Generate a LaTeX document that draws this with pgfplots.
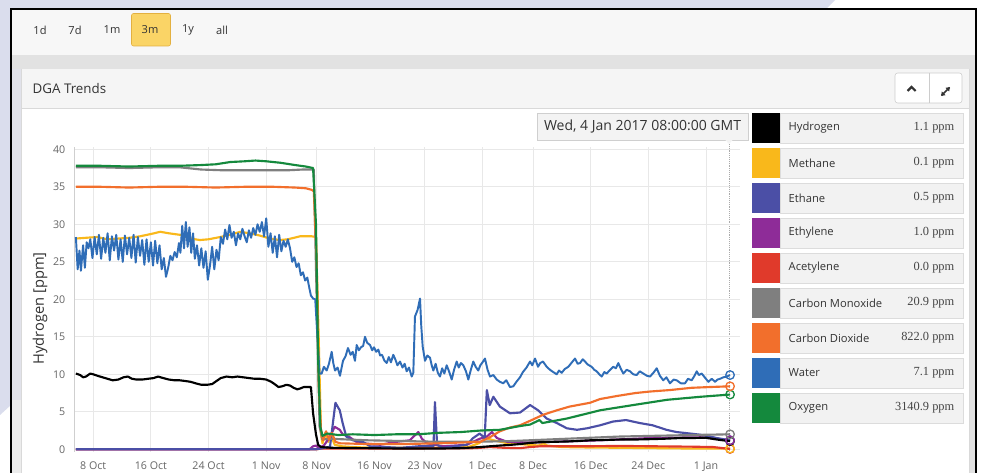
\documentclass[border=0pt]{standalone}
\usepackage{pgfplots}
\pgfplotsset{compat=1.18}
\usepackage{fontspec}
\setmainfont{Open Sans}
\newfontfamily\seriffont{Liberation Serif}
\definecolor{cH}{HTML}{000000}
\definecolor{cMe}{HTML}{F9B81B}
\definecolor{cEt}{HTML}{4B4FA6}
\definecolor{cEy}{HTML}{8E2C98}
\definecolor{cAc}{HTML}{E03A2B}
\definecolor{cCO}{HTML}{7F7F7F}
\definecolor{cCD}{HTML}{F26F2C}
\definecolor{cW}{HTML}{2F6DB7}
\definecolor{cO}{HTML}{14893D}
\definecolor{lav}{HTML}{DADDED}
\definecolor{tbar}{HTML}{F7F7F7}
\definecolor{band}{HTML}{E2E2E2}
\definecolor{hdr}{HTML}{F5F5F5}
\definecolor{bord}{HTML}{D9D9D9}
\definecolor{lgbox}{HTML}{F2F2F2}
\definecolor{btn}{HTML}{FAD466}
\definecolor{btnb}{HTML}{E3B040}
\definecolor{txt}{HTML}{333333}
\definecolor{tick}{HTML}{666666}
\definecolor{gridc}{HTML}{E8E8E8}
\definecolor{pm1}{HTML}{E1E2EA}
\definecolor{pm2}{HTML}{ECECEC}
\definecolor{btbord}{HTML}{CCCCCC}
\definecolor{ttb}{HTML}{CFCFCF}
\definecolor{ttf}{HTML}{F3F3F3}
\definecolor{dots}{HTML}{AAAAAA}
\definecolor{lgb}{HTML}{DCDCDC}
\definecolor{valc}{HTML}{444444}
\definecolor{yax}{HTML}{CFCFCF}
\begin{document}
\begin{tikzpicture}
\path[use as bounding box] (0,0) rectangle (741.75pt,-354.75pt);
\clip (0,0) rectangle (741.75pt,-354.75pt);
\begin{scope}[x=0.75pt,y=-0.75pt]
 \fill[white] (0,0) rectangle (989,473);
 \fill[lav] (0,0) -- (835,0) -- (826,9) -- (11,9) -- (11,405) -- (0,415) -- cycle;
 % toolbar
 \fill[tbar] (11,9) rectangle (976,55);
 \fill[band] (11,55) rectangle (976,69);
 \fill[pm1] (11,69) rectangle (21,400);
 \fill[pm2] (11,400) rectangle (21,480);
 \fill[band] (969,69) rectangle (976,480);
 \draw[btnb, fill=btn, rounded corners=1.5] (131.5,13.5) rectangle (170.5,46);
 \begin{scope}[every node/.style={font=\fontsize{8.3pt}{10pt}\selectfont, text=txt}]
  \node at (40,30) {1d};
  \node at (75,30) {7d};
  \node at (112,30) {1m};
  \node at (150,30) {3m};
  \node at (188,30) {1y};
  \node at (222,30) {all};
 \end{scope}
 % panel
 \fill[white] (21,69) rectangle (969,480);
 \fill[hdr] (21,69) rectangle (969,108);
 \draw[bord] (21,108.5) -- (969,108.5);
 \draw[bord] (21,69) -- (21,480);
 \draw[bord] (969,69) -- (969,480);
 \node[anchor=west, font=\fontsize{10pt}{12pt}\selectfont, text=txt] at (28,89) {DGA Trends};
 \draw[btbord, fill=white, rounded corners=2] (895,73) rectangle (962,103);
 \draw[btbord] (929,73) -- (929,103);
 \draw[line width=1.6, txt] (907.5,91) -- (911.5,87) -- (915.5,91);
 \draw[line width=1.1, txt] (941.5,95.5) -- (949.5,87.5);
 \fill[txt] (949.8,87.2) -- (945.5,87.8) -- (949.2,91.5) -- cycle;
 \fill[txt] (941.2,95.8) -- (945.5,95.2) -- (941.8,91.5) -- cycle;
 % tooltip
 \draw[ttb, fill=ttf] (537,113) rectangle (748,140);
 \fill[ttf] (725,139.5) -- (733,139.5) -- (729,144) -- cycle;
 \node[font=\fontsize{10.5pt}{12pt}\selectfont, text=txt] at (642.5,126.5) {Wed, 4 Jan 2017 08:00:00 GMT};
 \draw[densely dotted, dots] (729,144) -- (729,451);
 % legend
 \foreach \c/\n/\v [count=\i from 0] in {cH/Hydrogen/1.1 ppm, cMe/Methane/0.1 ppm, cEt/Ethane/0.5 ppm, cEy/Ethylene/1.0 ppm, cAc/Acetylene/0.0 ppm, cCO/Carbon Monoxide/20.9 ppm, cCD/Carbon Dioxide/822.0 ppm, cW/Water/7.1 ppm, cO/Oxygen/3140.9 ppm} {
   \draw[lgb, fill=lgbox] (780,113+35*\i) rectangle (963,143+35*\i);
   \fill[\c] (752,113+35*\i) rectangle (780,143+35*\i);
   \node[anchor=west, font=\fontsize{8.4pt}{10pt}\selectfont, text=txt] at (784,128+35*\i) {\n};
   \node[anchor=east, font=\seriffont\fontsize{9.3pt}{10pt}\selectfont, text=valc] at (959,128+35*\i) {\v};
 }
\end{scope}

\begin{axis}[
  at={(55.5pt,-338.66pt)}, anchor=south west,
  scale only axis, width=499.5pt, height=228.375pt,
  xmin=4.34, xmax=96.71, ymin=-0.3, ymax=40.3,
  xtick={7,15,23,31,38,46,53,61,68,76,84,92},
  xticklabels={8 Oct,16 Oct,24 Oct,1 Nov,8 Nov,16 Nov,23 Nov,1 Dec,8 Dec,16 Dec,24 Dec,1 Jan},
  ytick={0,5,...,40},
  grid=major, major grid style={draw=gridc, line width=0.7pt},
  separate axis lines, axis x line*=bottom, axis y line*=left,
  x axis line style={draw=none}, y axis line style={draw=yax, line width=0.7pt},
  major tick length=0pt,
  /pgf/number format/assume math mode=true,
  ticklabel style={font=\fontsize{8pt}{9pt}\selectfont, text=tick},
  xticklabel style={yshift=-4.5pt},
  yticklabel style={xshift=-3pt},
  ylabel={Hydrogen [ppm]},
  every axis y label/.style={at={(axis description cs:-0.051,0.47)}, rotate=90, anchor=center, font=\fontsize{11pt}{12pt}\selectfont, text=txt},
  every axis plot/.append style={line width=1.6pt, line join=round, mark=none},
  clip=false,
]
% Methane
\addplot[cMe] coordinates {(4.6,28.1) (6.0,28.2) (7.5,28.3) (9.0,28.0) (10.5,28.1) (12.0,28.2) (13.5,28.4) (15.0,28.7) (16.3,29.0) (17.5,28.8) (19.0,28.6) (20.5,28.1) (21.8,27.9) (23.0,28.0) (24.6,28.3) (26.0,28.6) (27.4,29.0) (28.7,28.8) (30.1,28.5) (31.5,28.1) (32.9,27.9) (34.0,28.0) (35.7,28.4) (37.3,28.4) (37.9,28.3) (38.3,14) (38.6,2) (38.8,0.8) (39.2,2.2) (39.6,1.0) (40.0,1.8) (40.5,0.6) (41.5,0.4) (43,0.3) (46,0.2) (50,0.2) (55,0.2) (59,0.3) (60.5,0.8) (61.5,1.5) (62.5,1.2) (63.5,1.0) (64.5,0.8) (66,0.7) (67.5,0.6) (68.8,0.5) (69.4,0.8) (70,0.5) (72,0.3) (75,0.25) (80,0.2) (85,0.15) (90,0.1) (95.33,0.1)};
% Acetylene
\addplot[cAc] coordinates {(4.6,0) (38.0,0) (38.6,0.1) (50,0.1) (60,0.15) (62,0.3) (64,0.2) (66.2,0.15) (67.6,0.3) (69,0.4) (75,0.4) (80,0.45) (85,0.4) (90,0.35) (93,0.3) (95.33,0.05)};
% Ethylene
\addplot[cEy] coordinates {(4.6,0) (37.0,0) (37.5,0.4) (37.9,0.5) (38.3,0.2) (39.0,0.5) (39.85,1.7) (40.5,3.0) (41.2,2.6) (41.6,2.0) (42.6,1.6) (43.5,1.0) (44.4,0.8) (46.8,0.6) (49.1,1.0) (50.9,1.2) (52.1,2.3) (52.6,1.4) (53.3,0.8) (55.5,0.4) (58.8,0.6) (60.6,1.4) (61.6,1.7) (62.3,2.3) (63.0,1.5) (64.4,1.0) (67.6,0.9) (71,1.0) (77.3,1.2) (84.2,1.5) (91.2,1.6) (93.5,1.4) (95.33,1.2)};
% Ethane
\addplot[cEt] coordinates {(4.6,0) (37.8,0) (38.6,0.1) (39.85,0.35) (40.3,3.9) (40.6,6.2) (41.2,5.2) (41.6,3.5) (42.1,1.7) (43.0,1.2) (44.4,1.0) (45.4,0.4) (49.6,0.2) (52.1,0.4) (54.2,0.4) (54.4,6.3) (54.7,0.6) (55.5,0.2) (58.8,0.6) (59.7,1.5) (60.6,2.1) (61.3,1.5) (61.6,7.9) (62.0,5.9) (62.5,7.0) (63.4,5.7) (64.8,4.8) (66.2,4.9) (67.6,5.9) (68.7,5.2) (69.9,4.1) (71.3,3.5) (72.7,2.8) (74.1,2.6) (75.5,2.8) (77.3,3.2) (79.1,3.7) (80.9,3.9) (82.8,3.5) (84.6,3.2) (86.5,2.6) (87.9,2.3) (89.8,2.1) (91.6,1.9) (93.5,1.5) (95.33,1.2)};
% Carbon Monoxide
\addplot[cCO] coordinates {(4.6,37.6) (8,37.6) (12,37.5) (16,37.6) (19,37.6) (22,37.3) (25,37.2) (28,37.2) (31,37.2) (34,37.2) (36,37.3) (37.6,37.3) (38.0,20) (38.4,3) (38.8,1.3) (40,1.4) (45,1.2) (50,1.1) (55,1.0) (60,1.0) (65,1.1) (70,1.3) (75,1.5) (80,1.7) (85,1.8) (90,1.9) (95.33,2.0)};
% Carbon Dioxide
\addplot[cCD] coordinates {(4.6,35.0) (8,35.0) (12,34.9) (16,35.0) (20,35.0) (24,34.9) (28,35.0) (32,35.0) (35,34.9) (36.5,34.8) (37.3,34.6) (37.6,34.4) (38.0,25) (38.3,8) (38.6,2.5) (38.9,1.2) (39.3,2.4) (39.7,1.3) (40.1,2.2) (40.6,1.0) (41.2,0.8) (45,0.7) (50,0.7) (55,0.8) (58,0.9) (60.7,1.0) (62.0,1.6) (63.4,2.4) (64.8,2.9) (66.2,3.2) (67.6,3.8) (69.4,4.6) (71.3,5.2) (73.1,5.7) (75.9,6.2) (77.3,6.7) (79.6,7.1) (82.2,7.5) (84.2,7.7) (87,7.9) (90,8.2) (92.5,8.3) (95.33,8.4)};
% Water
\addplot[cW, line width=1.45pt] coordinates {(4.6,28.3) (4.85,24.0) (5.1,26.5) (5.3,23.8) (5.6,27.2) (5.85,24.2) (6.1,27.6) (6.35,26.8) (6.6,28.0) (6.9,25.5) (7.2,28.3) (7.5,26.0) (7.8,28.6) (8.1,25.4) (8.4,28.2) (8.7,26.2) (9.0,28.8) (9.3,25.2) (9.6,28.4) (9.9,26.5) (10.2,28.6) (10.5,25.3) (10.8,28.0) (11.1,25.0) (11.4,28.5) (11.7,26.0) (12.0,28.2) (12.3,25.5) (12.6,28.6) (12.9,24.9) (13.2,28.3) (13.5,25.8) (13.8,27.9) (14.1,24.6) (14.4,28.0) (14.7,25.0) (15.0,27.6) (15.3,24.5) (15.6,27.8) (15.9,24.8) (16.2,27.2) (16.5,24.0) (16.8,25.5) (17.1,23.0) (17.4,24.2) (17.7,25.8) (18.0,25.2) (18.3,26.3) (18.6,25.6) (18.9,27.5) (19.1,26.2) (19.35,29.8) (19.6,26.8) (19.85,30.3) (20.1,27.0) (20.35,29.6) (20.6,26.2) (20.85,28.8) (21.1,25.4) (21.4,27.2) (21.7,24.5) (22.0,26.8) (22.3,24.2) (22.6,26.4) (22.9,22.6) (23.2,24.5) (23.5,27.0) (23.8,24.0) (24.1,26.6) (24.4,25.2) (24.7,28.3) (25.0,27.4) (25.3,29.3) (25.6,28.0) (25.9,29.9) (26.2,28.2) (26.5,29.0) (26.8,27.2) (27.1,28.8) (27.4,28.0) (27.7,29.4) (28.0,28.4) (28.3,27.6) (28.6,29.2) (28.9,28.2) (29.2,29.5) (29.5,28.6) (29.8,30.0) (30.1,29.0) (30.4,30.3) (30.7,28.4) (31.0,30.8) (31.3,27.0) (31.6,28.8) (31.9,26.2) (32.2,28.4) (32.5,25.6) (32.8,28.6) (33.1,26.4) (33.4,27.8) (33.7,27.0) (34.0,28.0) (34.3,26.8) (34.6,25.0) (34.9,25.6) (35.2,24.3) (35.5,24.8) (35.8,23.2) (36.1,23.6) (36.4,22.5) (36.7,22.9) (37.0,21.4) (37.2,20.5) (37.5,20.1) (37.8,20.0) (38.1,15.0) (38.4,10.1)
(38.69,10.1) (39.0,11.0) (39.39,10.5) (39.7,11.4) (40.08,13.0) (40.3,11.5) (40.54,10.5) (40.9,10.9) (41.23,9.8) (41.65,11.8) (42.0,12.4) (42.34,13.5) (42.7,12.6) (43.0,13.0) (43.31,11.8) (43.55,13.9) (43.85,13.2) (44.14,13.6) (44.45,13.8) (44.70,15.0) (45.0,14.2) (45.40,13.9) (45.7,13.2) (45.95,13.6) (46.25,13.0) (46.55,13.3) (46.8,12.5) (47.06,12.6) (47.4,11.8) (47.71,11.5) (48.0,12.3) (48.3,11.6) (48.62,12.6) (48.9,12.0) (49.2,11.2) (49.56,11.7) (49.9,10.9) (50.2,11.4) (50.48,10.4) (50.8,10.9) (51.18,9.7) (51.4,10.2) (51.63,17.7) (52.0,18.6) (52.33,20.1) (52.5,16.5) (52.70,13.7) (53.02,11.8) (53.35,12.5) (53.72,12.2) (53.95,11.2) (54.18,10.5) (54.5,11.4) (54.8,10.2) (55.10,9.7) (55.4,10.8) (55.7,10.1) (56.03,11.2) (56.35,10.4) (56.73,9.3) (57.05,10.6) (57.42,11.7) (57.7,10.9) (58.0,11.5) (58.34,11.2) (58.7,10.4) (59.03,9.3) (59.35,10.5) (59.72,11.7) (60.05,11.0) (60.41,10.5) (60.7,11.2) (61.0,11.6) (61.34,12.1) (61.7,10.6) (62.04,9.7) (62.5,9.9) (62.97,9.3) (63.4,9.0) (63.88,8.8) (64.3,9.2) (64.81,8.3) (65.27,8.4) (65.7,9.0) (66.20,9.6) (66.6,10.3) (67.1,10.9) (67.59,11.7) (67.9,11.2) (68.28,12.1) (68.70,11.0) (69.0,11.5) (69.39,11.7) (69.9,11.0) (70.36,10.6) (70.8,10.3) (71.29,10.0) (71.6,10.5) (71.98,10.2) (72.4,10.7) (72.90,11.0) (73.4,11.6) (73.83,12.1) (74.2,11.4) (74.52,11.5) (74.9,12.0) (75.21,11.7) (75.6,11.3) (76.14,11.0) (76.5,10.6) (76.83,10.4) (77.2,10.0) (77.53,9.7) (77.9,10.3) (78.22,10.1) (78.7,10.6) (79.14,11.0) (79.5,10.8) (79.83,11.5) (80.2,10.7) (80.52,10.1) (81.0,10.6) (81.46,10.4) (81.9,10.0) (82.38,9.9) (82.8,10.4) (83.30,10.1) (83.8,9.8) (84.23,9.7) (84.7,10.2) (85.16,10.8) (85.6,9.8) (86.07,9.2) (86.5,9.6) (87.00,8.8) (87.5,9.3) (87.93,9.2) (88.5,8.8) (89.08,8.8) (89.5,9.4) (90.01,9.2) (90.4,9.8) (90.71,10.4) (91.0,9.9) (91.40,10.1) (91.9,9.5) (92.32,9.0) (92.8,9.4) (93.25,9.0) (93.6,9.3) (93.94,9.4) (94.4,9.6) (94.9,9.7) (95.33,9.9)};
% Oxygen
\addplot[cO] coordinates {(4.6,37.8) (8,37.8) (12,37.7) (16,37.8) (19,37.8) (22,37.9) (24,38.0) (26,38.3) (28,38.4) (29.5,38.5) (31,38.4) (33,38.2) (35,37.9) (36.5,37.7) (37.5,37.5) (37.9,30) (38.2,12) (38.5,3) (38.8,1.8) (39.5,2.1) (41,1.9) (43,2.0) (46,1.9) (49,2.0) (52,2.0) (55,2.2) (58,2.3) (60.7,2.5) (63.4,2.6) (66.2,3.1) (67.6,3.3) (68.9,3.9) (69.3,3.5) (72.7,4.1) (77.3,5.2) (81.9,5.9) (86.6,6.6) (91.2,7.0) (95.33,7.3)};
% Hydrogen
\addplot[cH] coordinates {(4.6,10.1) (5.2,9.9) (5.6,9.6) (6.0,9.7) (6.6,10.1) (7.0,10.0) (7.6,9.8) (8.3,9.6) (9.0,9.4) (9.7,9.2) (10.5,9.3) (11.2,9.6) (11.8,9.7) (12.4,9.4) (13.0,9.3) (13.8,9.3) (14.6,9.4) (15.4,9.5) (16.0,9.7) (16.7,9.5) (17.5,9.3) (18.3,9.2) (19.0,9.2) (19.8,9.1) (20.5,9.0) (21.2,8.8) (22.0,8.6) (22.8,8.6) (23.5,8.7) (24.1,9.1) (24.7,9.5) (25.5,9.7) (26.3,9.6) (27.0,9.7) (27.8,9.6) (28.6,9.5) (29.4,9.4) (30.2,9.4) (31.0,9.3) (31.7,9.0) (32.3,8.6) (32.7,8.3) (33.2,8.4) (33.8,8.6) (34.3,8.5) (34.8,8.2) (35.3,8.0) (35.7,8.1) (36.2,8.3) (36.7,8.3) (37.2,8.3) (37.5,4.8) (37.9,2.0) (38.2,0.6) (38.6,0.3) (40,0.2) (45,0.15) (50,0.1) (55,0.1) (58,0.15) (60.7,0.3) (62,0.4) (63.4,0.5) (65,0.6) (66.2,0.7) (67.6,0.85) (69,0.95) (71,1.0) (73,1.05) (75.9,1.2) (78,1.25) (80.1,1.3) (82,1.3) (84.2,1.35) (86,1.4) (88.4,1.5) (90,1.5) (91.9,1.55) (93.2,1.35) (94.3,1.2) (95.33,1.1)};
% end markers
\addplot[only marks, mark=o, mark size=3.2pt, mark options={draw=cAc, fill=cAc!15, line width=1pt}] coordinates {(95.33,0.05)};
\addplot[only marks, mark=o, mark size=3.2pt, mark options={draw=cMe, fill=cMe!15, line width=1pt}] coordinates {(95.33,0.1)};
\addplot[only marks, mark=o, mark size=3.2pt, mark options={draw=cH, fill=cH!15, line width=1pt}] coordinates {(95.33,1.1)};
\addplot[only marks, mark=o, mark size=3.2pt, mark options={draw=cEt, fill=cEt!15, line width=1pt}] coordinates {(95.33,1.2)};
\addplot[only marks, mark=o, mark size=3.2pt, mark options={draw=cEy, fill=cEy!15, line width=1pt}] coordinates {(95.33,1.2)};
\addplot[only marks, mark=o, mark size=3.2pt, mark options={draw=cCO, fill=cCO!15, line width=1pt}] coordinates {(95.33,2.0)};
\addplot[only marks, mark=o, mark size=3.2pt, mark options={draw=cO, fill=cO!15, line width=1pt}] coordinates {(95.33,7.3)};
\addplot[only marks, mark=o, mark size=3.2pt, mark options={draw=cCD, fill=cCD!15, line width=1pt}] coordinates {(95.33,8.4)};
\addplot[only marks, mark=o, mark size=3.2pt, mark options={draw=cW, fill=cW!15, line width=1pt}] coordinates {(95.33,9.9)};
\end{axis}

\begin{scope}[x=0.75pt,y=-0.75pt]
 \draw[line width=2.2pt, black] (11,480) -- (11,9) -- (976,9) -- (976,480);
\end{scope}
\end{tikzpicture}
\end{document}
